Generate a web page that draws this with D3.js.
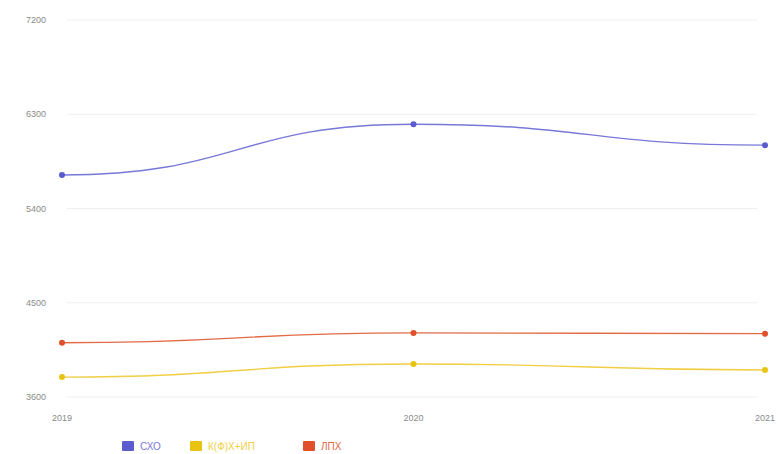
<!DOCTYPE html>
<html>
<head>
<meta charset="utf-8">
<script src="https://cdn.jsdelivr.net/npm/d3@7"></script>
<style>
  body { margin: 0; background: #fff; }
  text { font-family: "Liberation Sans", Arial, sans-serif; }
</style>
</head>
<body>
<svg id="chart" width="778" height="454"></svg>
<script>
// данные
const years = ["2019", "2020", "2021"];
const yTicks = [3600, 4500, 5400, 6300, 7200];
const sho = [5720, 6205, 6005];
const kfh = [3790, 3915, 3858];
const lph = [4118, 4212, 4205];

const seriesNames = ["СХО", "К(Ф)Х+ИП", "ЛПХ"];
const lineColors = ["#7878d8", "#f0cf45", "#e26a45"];
const boxColors = ["#5b5bd0", "#e8c411", "#e0502a"];

const svg = d3.select("#chart");

const x = d3.scalePoint().domain(years).range([62, 765]);
const y = d3.scaleLinear().domain([3600, 7200]).range([397, 20]);

// сетка
svg.append("g")
  .selectAll("line")
  .data(yTicks)
  .join("line")
  .attr("x1", 67)
  .attr("x2", 757)
  .attr("y1", d => y(d))
  .attr("y2", d => y(d))
  .style("stroke", "#eeeeee")
  .style("stroke-width", 1);

// подписи оси Y
svg.append("g")
  .selectAll("text")
  .data(yTicks)
  .join("text")
  .attr("x", 46)
  .attr("y", d => y(d) + 3)
  .attr("text-anchor", "end")
  .style("font-size", "9px")
  .style("fill", "#8a8a8a")
  .text(d => d);

// подписи оси X
svg.append("g")
  .selectAll("text")
  .data(years)
  .join("text")
  .attr("x", d => x(d))
  .attr("y", 421)
  .attr("text-anchor", "middle")
  .style("font-size", "9px")
  .style("fill", "#8a8a8a")
  .text(d => d);

const allSeries = [sho, kfh, lph];

// плавная линия с горизонтальными касательными в точках
const line = d3.line()
  .x((d, i) => x(years[i]))
  .y(d => y(d))
  .curve(d3.curveBumpX);

allSeries.forEach((vals, k) => {
  svg.append("path")
    .datum(vals)
    .attr("d", line)
    .style("fill", "none")
    .style("stroke", lineColors[k])
    .style("stroke-width", 1.4);

  svg.append("g")
    .selectAll("circle")
    .data(vals)
    .join("circle")
    .attr("cx", (d, i) => x(years[i]))
    .attr("cy", d => y(d))
    .attr("r", 3)
    .style("fill", boxColors[k]);
});

// легенда
const legendX = [122, 190, 303];
const legend = svg.append("g")
  .selectAll("g")
  .data(seriesNames)
  .join("g")
  .attr("transform", (d, i) => `translate(${legendX[i]},441)`);

legend.append("rect")
  .attr("width", 12)
  .attr("height", 10)
  .attr("rx", 1)
  .style("fill", (d, i) => boxColors[i]);

legend.append("text")
  .attr("x", 18)
  .attr("y", 9)
  .style("font-size", "10px")
  .style("fill", (d, i) => lineColors[i])
  .text(d => d);
</script>
</body>
</html>
